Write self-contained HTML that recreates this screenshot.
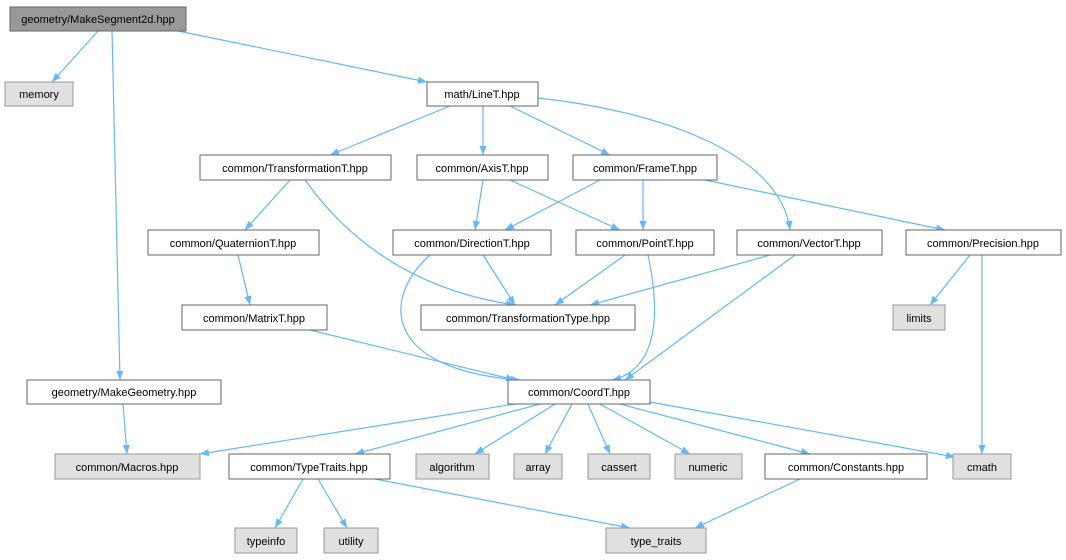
<!DOCTYPE html>
<html><head><meta charset="utf-8"><style>
html,body{margin:0;padding:0;background:#fff;}
svg{display:block;}
text{font-family:"Liberation Sans",sans-serif;font-size:11px;fill:#000;text-anchor:middle;}
.n{fill:#fff;stroke:#666;stroke-width:1;}
.g{fill:#e0e0e0;stroke:#999;stroke-width:1;}
.r{fill:#999;stroke:#666;stroke-width:1;}
.e{fill:none;stroke:#63b8ff;stroke-width:1.2;marker-end:url(#a);}
</style></head><body>
<svg width="1066" height="560" viewBox="0 0 1066 560" xmlns="http://www.w3.org/2000/svg">
<defs><marker id="a" viewBox="0 0 10 10" refX="10" refY="5" markerWidth="9" markerHeight="9" markerUnits="userSpaceOnUse" orient="auto"><path d="M0,1 L10,5 L0,9 z" fill="#63b8ff"/></marker></defs>
<g>
<path class="e" d="M98,31 L52,82"/>
<path class="e" d="M178,31 L427,82"/>
<path class="e" d="M112,31 L120,380"/>
<path class="e" d="M450,106 L330,155"/>
<path class="e" d="M483,106 L483,155"/>
<path class="e" d="M510,106 L610,155"/>
<path class="e" d="M538,98 C650,110 780,150 790,230"/>
<path class="e" d="M290,180 L245,230"/>
<path class="e" d="M305,180 Q380,285 515,305"/>
<path class="e" d="M483,180 L475,230"/>
<path class="e" d="M510,180 L620,230"/>
<path class="e" d="M600,180 L505,230"/>
<path class="e" d="M643,180 L643,230"/>
<path class="e" d="M705,180 L945,230"/>
<path class="e" d="M238,255 L250,305"/>
<path class="e" d="M483,255 L515,305"/>
<path class="e" d="M430,255 C380,300 385,370 520,380"/>
<path class="e" d="M625,255 L555,305"/>
<path class="e" d="M648,255 C662,320 655,370 612,380"/>
<path class="e" d="M770,255 L590,305"/>
<path class="e" d="M795,255 L625,380"/>
<path class="e" d="M970,255 L930,305"/>
<path class="e" d="M982,255 L982,454"/>
<path class="e" d="M310,330 L515,380"/>
<path class="e" d="M123,404 L127,454"/>
<path class="e" d="M515,404 L200,454"/>
<path class="e" d="M540,404 L355,454"/>
<path class="e" d="M555,404 L475,454"/>
<path class="e" d="M572,404 L545,454"/>
<path class="e" d="M588,404 L610,454"/>
<path class="e" d="M600,404 L690,454"/>
<path class="e" d="M620,404 L810,454"/>
<path class="e" d="M650,402 L955,457"/>
<path class="e" d="M303,479 L275,528"/>
<path class="e" d="M318,479 L347,528"/>
<path class="e" d="M375,479 L630,528"/>
<path class="e" d="M800,479 L695,528"/>
</g>
<g>
<rect class="r" x="10" y="7" width="176" height="24"/><text x="98" y="23">geometry/MakeSegment2d.hpp</text>
<rect class="g" x="5" y="82" width="68" height="24"/><text x="39" y="98">memory</text>
<rect class="n" x="427" y="82" width="111" height="24"/><text x="482" y="98">math/LineT.hpp</text>
<rect class="n" x="200" y="155" width="191" height="25"/><text x="295" y="172">common/TransformationT.hpp</text>
<rect class="n" x="417" y="155" width="131" height="25"/><text x="482" y="172">common/AxisT.hpp</text>
<rect class="n" x="573" y="155" width="144" height="25"/><text x="645" y="172">common/FrameT.hpp</text>
<rect class="n" x="148" y="230" width="171" height="25"/><text x="233" y="247">common/QuaternionT.hpp</text>
<rect class="n" x="393" y="230" width="158" height="25"/><text x="472" y="247">common/DirectionT.hpp</text>
<rect class="n" x="576" y="230" width="138" height="25"/><text x="645" y="247">common/PointT.hpp</text>
<rect class="n" x="737" y="230" width="145" height="25"/><text x="809" y="247">common/VectorT.hpp</text>
<rect class="n" x="906" y="230" width="155" height="25"/><text x="983" y="247">common/Precision.hpp</text>
<rect class="n" x="182" y="305" width="145" height="25"/><text x="254" y="322">common/MatrixT.hpp</text>
<rect class="n" x="421" y="305" width="214" height="25"/><text x="528" y="322">common/TransformationType.hpp</text>
<rect class="g" x="893" y="305" width="52" height="25"/><text x="919" y="322">limits</text>
<rect class="n" x="27" y="380" width="194" height="24"/><text x="124" y="396">geometry/MakeGeometry.hpp</text>
<rect class="n" x="508" y="380" width="142" height="24"/><text x="579" y="396">common/CoordT.hpp</text>
<rect class="g" x="55" y="454" width="145" height="25"/><text x="127" y="471">common/Macros.hpp</text>
<rect class="n" x="229" y="454" width="161" height="25"/><text x="309" y="471">common/TypeTraits.hpp</text>
<rect class="g" x="416" y="454" width="73" height="25"/><text x="452" y="471">algorithm</text>
<rect class="g" x="514" y="454" width="48" height="25"/><text x="538" y="471">array</text>
<rect class="g" x="588" y="454" width="62" height="25"/><text x="619" y="471">cassert</text>
<rect class="g" x="675" y="454" width="67" height="25"/><text x="708" y="471">numeric</text>
<rect class="n" x="765" y="454" width="162" height="25"/><text x="846" y="471">common/Constants.hpp</text>
<rect class="g" x="953" y="454" width="58" height="25"/><text x="982" y="471">cmath</text>
<rect class="g" x="235" y="528" width="62" height="25"/><text x="266" y="545">typeinfo</text>
<rect class="g" x="324" y="528" width="54" height="25"/><text x="351" y="545">utility</text>
<rect class="g" x="606" y="528" width="100" height="25"/><text x="656" y="545">type_traits</text>
</g>
</svg>
</body></html>
